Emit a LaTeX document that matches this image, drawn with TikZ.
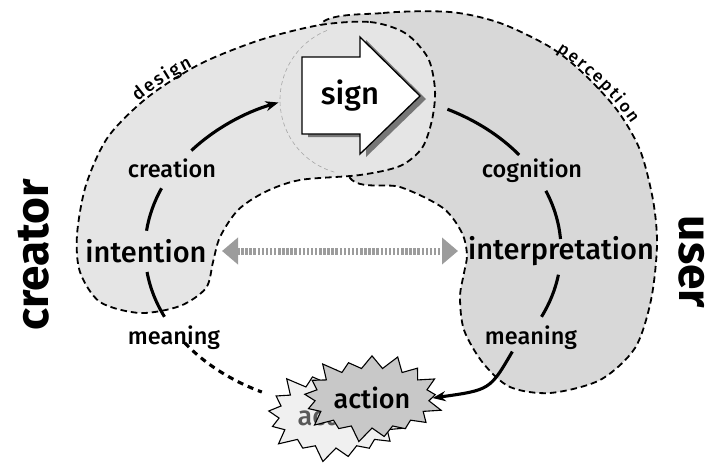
\documentclass[tikz,border=0pt]{standalone}
\usepackage{fontspec}
\setmainfont{Fira Sans}[UprightFont={* Medium}, BoldFont={* Bold}]
\usetikzlibrary{shapes.symbols,decorations.text,arrows.meta,calc}
\definecolor{leftgray}{HTML}{E5E5E5}
\definecolor{rightgray}{HTML}{D8D8D8}
\definecolor{arrgray}{HTML}{9C9C9C}
\definecolor{shadowgray}{HTML}{777777}
\definecolor{backstar}{HTML}{F0F0F0}
\definecolor{frontstar}{HTML}{C8C8C8}
\newcommand{\lsp}{{\hspace{2.2pt}}}
\begin{document}
\begin{tikzpicture}[x=1pt,y=-1pt,
  blob/.style={draw=black, dash pattern=on 6.5pt off 4pt, line width=1.8pt},
  ring/.style={line width=3.1pt},
  lbl/.style={font=\fontsize{23.5}{23.5}\selectfont, inner sep=0pt},
  big/.style={font=\fontsize{29}{29}\selectfont, inner sep=0pt},
  side/.style={font=\fontsize{46}{46}\selectfont\bfseries, inner sep=0pt},
  burst/.style={starburst, draw=black, line width=1.1pt, starburst points=17, starburst point height=17pt, minimum width=136pt, minimum height=94pt, inner sep=2pt, font=\fontsize{27}{27}\selectfont},
]
\useasboundingbox (0,0) rectangle (706,467);

% right region (user)
\path[blob, fill=rightgray] plot[smooth cycle] coordinates {
 (320,25) (383,13) (450,12) (500,23) (550,47) (583,73) (617,110) (640,150)
 (653,200) (657,245) (651,300) (635,348) (600,380) (550,393) (510,387)
 (483,363) (464,330) (460,297) (464,273) (467,255) (462,233) (443,208)
 (400,187) (350,178) (330,100)};

% left region (creator)
\path[blob, fill=leftgray] plot[smooth cycle] coordinates {
 (320,25) (370,22) (405,33) (428,58) (435,90) (432,120) (422,148) (400,166)
 (360,175) (300,180) (265,192) (238,210) (220,237) (213,262) (206,288)
 (180,306) (140,313) (100,302) (80,272) (77,235) (86,185) (108,137)
 (148,97) (200,64) (260,40)};

% sign circle (angles negated because the y axis points down)
\coordinate (sc) at (355,100);
\draw[gray!70, line width=0.6pt, dash pattern=on 4pt off 3pt]
  ($(sc)+(-112:75)$) arc[start angle=-112, end angle=-254, radius=75];

% path labels
\path[decorate, decoration={text along path, text align=center,
  text={|\fontsize{18}{18}\selectfont|d\lsp e\lsp s\lsp i\lsp g\lsp n}}]
  (106,134) .. controls (136,98) and (173,72) .. (234,48);
\path[decorate, decoration={text along path, text align=center,
  text={|\fontsize{17}{17}\selectfont|p\lsp e\lsp r\lsp c\lsp e\lsp p\lsp t\lsp i\lsp o\lsp n}}]
  (515,30) .. controls (575,56) and (624,98) .. (654,165);

% labels
\node[lbl] (creation) at (172,168) {creation};
\node[big] (intention) at (146,251) {intention};
\node[lbl] (meaningL) at (174,338) {meaning};
\node[lbl] (cognition) at (532,171) {cognition};
\node[big] (interp) at (561,251) {interpretation};
\node[lbl] (meaningR) at (531,338) {meaning};
\node[side, rotate=90] (creator) at (34,255) {creator};
\node[side, rotate=-90] (user) at (692,262) {user};

% ring arcs (visual angle t is written as -t)
\coordinate (E) at (353,250);
\coordinate (a1) at ($(E)+(-141:208 and 158)$);
\coordinate (a2) at ($(E)+(-157:208 and 158)$);
\coordinate (a3) at ($(E)+(-188:208 and 158)$);
\coordinate (a4) at ($(E)+(-216:208 and 158)$);
\coordinate (b1) at ($(E)+(-63:208 and 158)$);
\coordinate (b2) at ($(E)+(-22:208 and 158)$);
\coordinate (b3) at ($(E)+(9:208 and 158)$);
\coordinate (b4) at ($(E)+(40:208 and 158)$);
\draw[ring, -{Stealth[length=13pt,width=10pt]}] (a1) arc[start angle=-141, end angle=-111, x radius=208, y radius=158];
\draw[ring] (a2) arc[start angle=-157, end angle=-173, x radius=208, y radius=158];
\draw[ring] (a3) arc[start angle=-188, end angle=-205, x radius=208, y radius=158];
\draw[ring, dash pattern=on 6pt off 5pt] (a4) arc[start angle=-216, end angle=-244, x radius=208, y radius=158];
\draw[ring] (b1) arc[start angle=-63, end angle=-37, x radius=208, y radius=158];
\draw[ring] (b2) arc[start angle=-22, end angle=-4, x radius=208, y radius=158];
\draw[ring] (b3) arc[start angle=9, end angle=25, x radius=208, y radius=158];

% double arrow
\draw[arrgray, line width=7pt, dash pattern=on 2.5pt off 1.6pt,
  {Triangle[length=16pt,width=26pt]}-{Triangle[length=16pt,width=26pt]}]
  ([xshift=76pt]intention.center) -- ([xshift=-103pt]interp.center);

% sign arrow
\node[font=\fontsize{31}{31}\selectfont, inner sep=0pt] (sign) at (350,96) {sign};
\fill[shadowgray] ($(sign)+(-42,-36)$) -- ++(58,0) -- ++(0,-20) -- ++(60,59) -- ++(-60,58) -- ++(0,-20) -- ++(-58,0) -- cycle;
\draw[fill=white, line width=1.3pt] ($(sign)+(-48,-39)$) -- ++(58,0) -- ++(0,-20) -- ++(60,59) -- ++(-60,58) -- ++(0,-20) -- ++(-58,0) -- cycle;
\node[font=\fontsize{31}{31}\selectfont, inner sep=0pt] at (sign) {sign};

% action bursts
\node[burst, fill=backstar, text=gray!70!black, minimum height=100pt] (actb) at (336,415) {action};
\node[burst, fill=frontstar] (act) at (372,398) {action};

% arrow to action
\draw[ring, -{Stealth[length=13pt,width=10pt]}] (b4) .. controls (490,390) .. (act.east);
\end{tikzpicture}
\end{document}
